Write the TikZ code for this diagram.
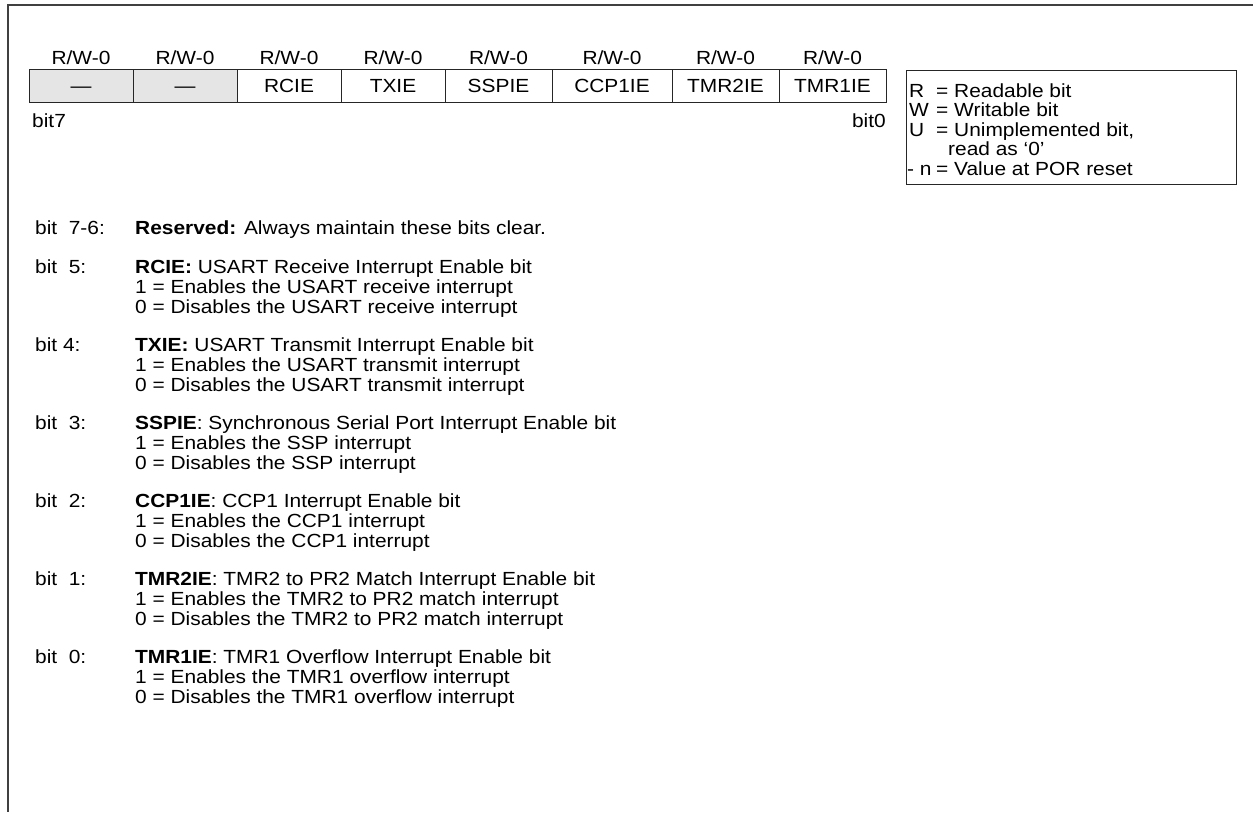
\documentclass[tikz,border=0pt]{standalone}
\usepackage{fontspec}
\setmainfont{Liberation Sans}[FakeStretch=1.1]
\begin{document}
\begin{tikzpicture}[x=1pt,y=-1pt,
  every node/.style={font=\fontsize{19}{20}\selectfont, inner sep=0pt},
  cell/.style={draw=black!85, line width=1pt, minimum height=33pt},
  graycell/.style={cell, fill=black!10},
  celltext/.style={anchor=base},
  lbl/.style={anchor=base},
  txt/.style={anchor=base west},
  leg/.style={anchor=base west}]
\useasboundingbox (0,0) rectangle (1253,812);
% frame (top and left edges)
\draw[line width=2pt, draw=black!75] (1253,5) -- (8,5) -- (8,812);
% register cells
\node[graycell, minimum width=104pt] (c7) at (81,85.5) {};
\node[graycell, minimum width=104pt] (c6) at (185,85.5) {};
\node[cell, minimum width=104pt] (c5) at (289,85.5) {};
\node[cell, minimum width=104pt] (c4) at (393,85.5) {};
\node[cell, minimum width=107pt] (c3) at (498.5,85.5) {};
\node[cell, minimum width=120pt] (c2) at (612,85.5) {};
\node[cell, minimum width=107pt] (c1) at (725.5,85.5) {};
\node[cell, minimum width=107pt] (c0) at (832.5,85.5) {};
\node[celltext] (n7) at (81,92.5) {—};
\node[celltext] (n6) at (185,92.5) {—};
\node[celltext] (n5) at (289,92.5) {RCIE};
\node[celltext] (n4) at (393,92.5) {TXIE};
\node[celltext] (n3) at (498.5,92.5) {SSPIE};
\node[celltext] (n2) at (612,92.5) {CCP1IE};
\node[celltext] (n1) at (725.5,92.5) {TMR2IE};
\node[celltext] (n0) at (832.5,92.5) {TMR1IE};
% access labels
\foreach \c/\x in {c7/81,c6/185,c5/289,c4/393,c3/498.5,c2/612,c1/725.5,c0/832.5}
  \node[lbl] (a\c) at (\x,64) {R/W-0};
\node[txt] (b7) at (32,127) {bit7};
\node[anchor=base east] (b0) at (886,127) {bit0};
% legend
\node[draw=black!85, line width=1pt, minimum width=330pt, minimum height=114pt, anchor=north west] (legend) at (906,70) {};
\node[leg] (lr) at (909,97) {R};
\node[leg] (lre) at (936,97) {= Readable bit};
\node[leg] (lw) at (909,116.5) {W};
\node[leg] (lwe) at (936,116.5) {= Writable bit};
\node[leg] (lu) at (909,136) {U};
\node[leg] (lue) at (936,136) {= Unimplemented bit,};
\node[leg] (lu2) at (948,155.5) {read as ‘0’};
\node[leg] (ln) at (907,175) {- n};
\node[leg] (lne) at (936,175) {= Value at POR reset};
% bit descriptions
\node[txt] (t76) at (35,234) {bit\ \ 7-6:};
\node[txt] (d76) at (135,234) {\textbf{Reserved:} Always maintain these bits clear.};
\node[txt] (t5) at (35,273) {bit\ \ 5:};
\node[txt] (d5) at (135,273) {\textbf{RCIE:} USART Receive Interrupt Enable bit};
\node[txt] (d5a) at (135,293) {1 = Enables the USART receive interrupt};
\node[txt] (d5b) at (135,313) {0 = Disables the USART receive interrupt};
\node[txt] (t4) at (35,351) {bit 4:};
\node[txt] (d4) at (135,351) {\textbf{TXIE:} USART Transmit Interrupt Enable bit};
\node[txt] (d4a) at (135,371) {1 = Enables the USART transmit interrupt};
\node[txt] (d4b) at (135,391) {0 = Disables the USART transmit interrupt};
\node[txt] (t3) at (35,429) {bit\ \ 3:};
\node[txt] (d3) at (135,429) {\textbf{SSPIE}: Synchronous Serial Port Interrupt Enable bit};
\node[txt] (d3a) at (135,449) {1 = Enables the SSP interrupt};
\node[txt] (d3b) at (135,469) {0 = Disables the SSP interrupt};
\node[txt] (t2) at (35,507) {bit\ \ 2:};
\node[txt] (d2) at (135,507) {\textbf{CCP1IE}: CCP1 Interrupt Enable bit};
\node[txt] (d2a) at (135,527) {1 = Enables the CCP1 interrupt};
\node[txt] (d2b) at (135,547) {0 = Disables the CCP1 interrupt};
\node[txt] (t1) at (35,585) {bit\ \ 1:};
\node[txt] (d1) at (135,585) {\textbf{TMR2IE}: TMR2 to PR2 Match Interrupt Enable bit};
\node[txt] (d1a) at (135,605) {1 = Enables the TMR2 to PR2 match interrupt};
\node[txt] (d1b) at (135,625) {0 = Disables the TMR2 to PR2 match interrupt};
\node[txt] (t0) at (35,663) {bit\ \ 0:};
\node[txt] (d0) at (135,663) {\textbf{TMR1IE}: TMR1 Overflow Interrupt Enable bit};
\node[txt] (d0a) at (135,683) {1 = Enables the TMR1 overflow interrupt};
\node[txt] (d0b) at (135,703) {0 = Disables the TMR1 overflow interrupt};
\end{tikzpicture}
\end{document}
